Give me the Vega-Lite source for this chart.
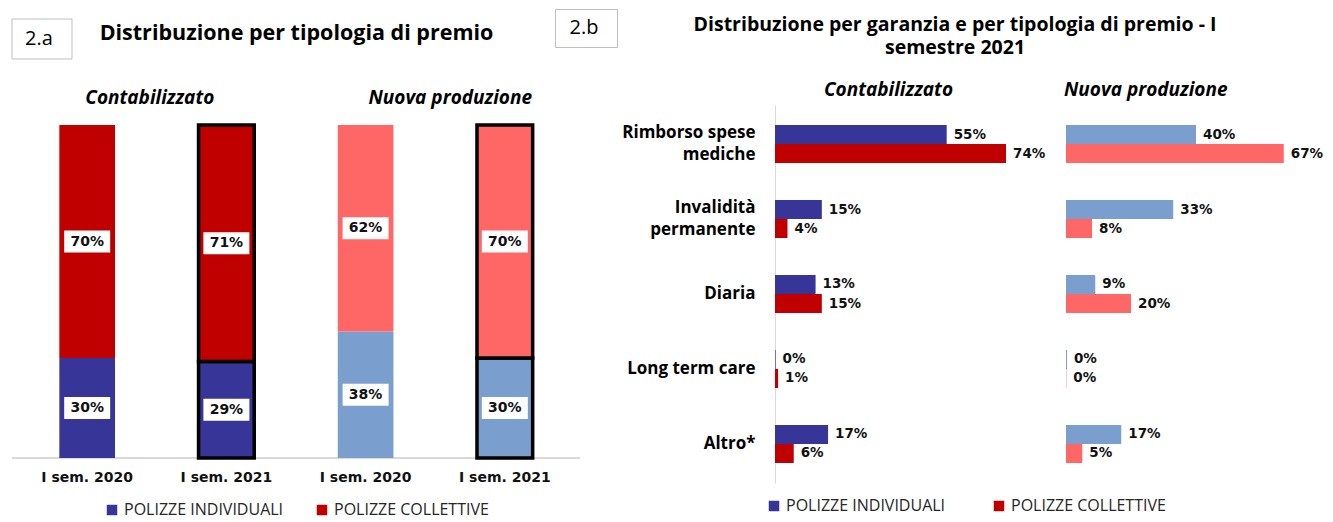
{
  "$schema": "https://vega.github.io/schema/vega-lite/v6.json",
  "background": "white",
  "padding": {"left": 10, "top": 8, "right": 0, "bottom": 0},
  "spacing": -12,
  "resolve": {"scale": {"color": "independent"}, "legend": {"color": "independent"}},
  "config": {
    "view": {"stroke": null},
    "font": "Open Sans",
    "axis": {"grid": false, "ticks": false, "tickSize": 0, "domain": false},
    "legend": {"layout": {"bottom": {"anchor": "middle"}}}
  },
  "datasets": {
    "sinistra": [
      {"misura": "Contabilizzato", "periodo": "I sem. 2020", "tipo": "POLIZZE INDIVIDUALI", "quota": 0.30},
      {"misura": "Contabilizzato", "periodo": "I sem. 2020", "tipo": "POLIZZE COLLETTIVE", "quota": 0.70},
      {"misura": "Contabilizzato", "periodo": "I sem. 2021", "tipo": "POLIZZE INDIVIDUALI", "quota": 0.29},
      {"misura": "Contabilizzato", "periodo": "I sem. 2021", "tipo": "POLIZZE COLLETTIVE", "quota": 0.71},
      {"misura": "Nuova produzione", "periodo": "I sem. 2020", "tipo": "POLIZZE INDIVIDUALI", "quota": 0.38},
      {"misura": "Nuova produzione", "periodo": "I sem. 2020", "tipo": "POLIZZE COLLETTIVE", "quota": 0.62},
      {"misura": "Nuova produzione", "periodo": "I sem. 2021", "tipo": "POLIZZE INDIVIDUALI", "quota": 0.30},
      {"misura": "Nuova produzione", "periodo": "I sem. 2021", "tipo": "POLIZZE COLLETTIVE", "quota": 0.70}
    ],
    "destra": [
      {"misura": "Contabilizzato", "garanzia": "Rimborso spese mediche", "tipo": "POLIZZE INDIVIDUALI", "quota": 0.55},
      {"misura": "Contabilizzato", "garanzia": "Rimborso spese mediche", "tipo": "POLIZZE COLLETTIVE", "quota": 0.74},
      {"misura": "Contabilizzato", "garanzia": "Invalidità permanente", "tipo": "POLIZZE INDIVIDUALI", "quota": 0.15},
      {"misura": "Contabilizzato", "garanzia": "Invalidità permanente", "tipo": "POLIZZE COLLETTIVE", "quota": 0.04},
      {"misura": "Contabilizzato", "garanzia": "Diaria", "tipo": "POLIZZE INDIVIDUALI", "quota": 0.13},
      {"misura": "Contabilizzato", "garanzia": "Diaria", "tipo": "POLIZZE COLLETTIVE", "quota": 0.15},
      {"misura": "Contabilizzato", "garanzia": "Long term care", "tipo": "POLIZZE INDIVIDUALI", "quota": 0.002},
      {"misura": "Contabilizzato", "garanzia": "Long term care", "tipo": "POLIZZE COLLETTIVE", "quota": 0.01},
      {"misura": "Contabilizzato", "garanzia": "Altro*", "tipo": "POLIZZE INDIVIDUALI", "quota": 0.17},
      {"misura": "Contabilizzato", "garanzia": "Altro*", "tipo": "POLIZZE COLLETTIVE", "quota": 0.06},
      {"misura": "Nuova produzione", "garanzia": "Rimborso spese mediche", "tipo": "POLIZZE INDIVIDUALI", "quota": 0.40},
      {"misura": "Nuova produzione", "garanzia": "Rimborso spese mediche", "tipo": "POLIZZE COLLETTIVE", "quota": 0.67},
      {"misura": "Nuova produzione", "garanzia": "Invalidità permanente", "tipo": "POLIZZE INDIVIDUALI", "quota": 0.33},
      {"misura": "Nuova produzione", "garanzia": "Invalidità permanente", "tipo": "POLIZZE COLLETTIVE", "quota": 0.08},
      {"misura": "Nuova produzione", "garanzia": "Diaria", "tipo": "POLIZZE INDIVIDUALI", "quota": 0.09},
      {"misura": "Nuova produzione", "garanzia": "Diaria", "tipo": "POLIZZE COLLETTIVE", "quota": 0.20},
      {"misura": "Nuova produzione", "garanzia": "Long term care", "tipo": "POLIZZE INDIVIDUALI", "quota": 0.003},
      {"misura": "Nuova produzione", "garanzia": "Long term care", "tipo": "POLIZZE COLLETTIVE", "quota": 0.001},
      {"misura": "Nuova produzione", "garanzia": "Altro*", "tipo": "POLIZZE INDIVIDUALI", "quota": 0.17},
      {"misura": "Nuova produzione", "garanzia": "Altro*", "tipo": "POLIZZE COLLETTIVE", "quota": 0.05}
    ]
  },
  "hconcat": [
    {
      "spacing": 27,
      "resolve": {"scale": {"color": "independent"}, "legend": {"color": "independent"}},
      "vconcat": [
        {
          "spacing": 20,
          "hconcat": [
            {
              "width": 60, "height": 50,
              "data": {"values": [{"t": "2.a"}]},
              "layer": [
                {
                  "mark": {"type": "point", "shape": "M-1,-0.5H1V0.8333H-1Z", "size": 3600, "filled": false, "color": "#bfbfbf", "strokeWidth": 1, "opacity": 1},
                  "encoding": {}
                },
                {
                  "mark": {"type": "text", "font": "Open Sans", "fontSize": 20, "color": "#000000", "dx": -3, "dy": 5},
                  "encoding": {"text": {"field": "t", "type": "nominal"}}
                }
              ]
            },
            {
              "width": 440, "height": 50,
              "data": {"values": [{"t": "Distribuzione per tipologia di premio"}]},
              "mark": {"type": "text", "font": "Open Sans", "fontWeight": "bold", "fontSize": 21.5, "color": "#000000", "dx": -17.5},
              "encoding": {"text": {"field": "t", "type": "nominal"}}
            },
            {
              "width": 62, "height": 38,
              "view": {"stroke": "#bfbfbf", "strokeWidth": 1},
              "data": {"values": [{"t": "2.b"}]},
              "mark": {"type": "text", "font": "Open Sans", "fontSize": 20, "color": "#000000", "dx": -2},
              "encoding": {"text": {"field": "t", "type": "nominal"}}
            }
          ]
        },
        {
          "width": 568, "height": 333,
          "data": {"name": "sinistra"},
          "layer": [
            {
              "mark": {"type": "rule", "color": "#d9d9d9", "strokeWidth": 1.5},
              "encoding": {"y": {"datum": 0, "type": "quantitative"}}
            },
            {
              "encoding": {
                "x": {
                  "field": "misura", "type": "nominal",
                  "scale": {"paddingInner": 0, "paddingOuter": 0.02},
                  "axis": {
                    "orient": "top", "title": null, "labelAngle": 0,
                    "labelFont": "Open Sans", "labelFontWeight": "bold", "labelFontStyle": "italic",
                    "labelFontSize": 19, "labelColor": "#000000", "labelPadding": 18,
                    "labelOffset": {"condition": {"test": "datum.value === 'Nuova produzione'", "value": 15}, "value": -7}
                  }
                },
                "xOffset": {"field": "periodo", "type": "nominal", "scale": {"paddingInner": 0.6, "paddingOuter": 0.3}}
              },
              "layer": [
                {
                  "mark": {"type": "bar"},
                  "encoding": {
                    "y": {"field": "quota", "type": "quantitative", "stack": "zero", "scale": {"domain": [0, 1], "nice": false}, "axis": null},
                    "order": {"field": "tipo", "type": "nominal", "sort": "descending"},
                    "color": {
                      "field": "tipo", "type": "nominal",
                      "scale": {"domain": ["POLIZZE INDIVIDUALI", "POLIZZE COLLETTIVE"], "range": ["#373698", "#C00000"]},
                      "legend": {
                        "orient": "bottom", "direction": "horizontal", "title": null,
                        "symbolType": "square", "symbolSize": 110, "symbolStrokeWidth": 0,
                        "labelFont": "Open Sans", "labelFontSize": 16, "labelColor": "#262626",
                        "columnPadding": 30, "offset": 44, "labelLimit": 300
                      },
                      "condition": [
                        {"test": "datum.misura === 'Nuova produzione' && datum.tipo === 'POLIZZE INDIVIDUALI'", "value": "#7A9FCE"},
                        {"test": "datum.misura === 'Nuova produzione' && datum.tipo === 'POLIZZE COLLETTIVE'", "value": "#FF6666"}
                      ]
                    },
                    "stroke": {"condition": {"test": "datum.periodo === 'I sem. 2021'", "value": "#000000"}, "value": "transparent"},
                    "strokeWidth": {"condition": {"test": "datum.periodo === 'I sem. 2021'", "value": 3.5}, "value": 0}
                  }
                },
                {
                  "mark": {"type": "point", "shape": "M-1,-0.4783H1V0.4783H-1Z", "filled": true, "color": "#ffffff", "opacity": 1, "size": 2116, "strokeWidth": 0},
                  "encoding": {
                    "y": {"field": "quota", "type": "quantitative", "stack": "zero", "bandPosition": 0.5},
                    "order": {"field": "tipo", "type": "nominal", "sort": "descending"},
                    "detail": {"field": "tipo", "type": "nominal"}
                  }
                },
                {
                  "mark": {"type": "text", "font": "DejaVu Sans", "fontWeight": "bold", "fontSize": 14, "color": "#111111"},
                  "encoding": {
                    "y": {"field": "quota", "type": "quantitative", "stack": "zero", "bandPosition": 0.5},
                    "order": {"field": "tipo", "type": "nominal", "sort": "descending"},
                    "detail": {"field": "tipo", "type": "nominal"},
                    "text": {"field": "quota", "type": "quantitative", "format": ".0%"}
                  }
                },
                {
                  "transform": [{"filter": "datum.tipo === 'POLIZZE INDIVIDUALI'"}],
                  "mark": {"type": "text", "font": "DejaVu Sans", "fontWeight": "bold", "fontSize": 14, "baseline": "top", "dy": 13, "color": "#111111"},
                  "encoding": {
                    "y": {"datum": 0, "type": "quantitative"},
                    "text": {"field": "periodo", "type": "nominal"}
                  }
                }
              ]
            }
          ]
        }
      ]
    },
    {
      "spacing": 17,
      "resolve": {"scale": {"color": "independent"}, "legend": {"color": "independent"}},
      "vconcat": [
        {
          "width": 360, "height": 55,
          "data": {"values": [{"t": "Distribuzione per garanzia e per tipologia di premio - I\nsemestre 2021"}]},
          "mark": {"type": "text", "font": "Open Sans", "fontWeight": "bold", "fontSize": 19.5, "lineBreak": "\n", "lineHeight": 23, "dy": -11.5, "color": "#000000"},
          "encoding": {"text": {"field": "t", "type": "nominal"}}
        },
        {
          "spacing": 4,
          "resolve": {"scale": {"color": "shared"}, "legend": {"color": "shared"}},
          "hconcat": [
            {
              "width": 285, "height": 378,
              "data": {"name": "destra"},
              "transform": [{"filter": "datum.misura === 'Contabilizzato'"}],
              "title": {"text": "Contabilizzato", "font": "Open Sans", "fontStyle": "italic", "fontWeight": "bold", "fontSize": 19, "color": "#000000", "frame": "group", "anchor": "middle", "dx": -29, "offset": 5},
              "encoding": {
                "y": {
                  "field": "garanzia", "type": "nominal",
                  "scale": {"domain": ["Rimborso spese mediche", "Invalidità permanente", "Diaria", "Long term care", "Altro*"], "paddingInner": 0.493, "paddingOuter": 0.267},
                  "axis": {
                    "title": null, "domain": true, "domainColor": "#d9d9d9", "domainWidth": 1,
                    "labelFont": "Open Sans", "labelFontWeight": "bold", "labelFontSize": 17, "labelColor": "#000000",
                    "labelPadding": 20, "labelLineHeight": 22, "labelLimit": 250, "minExtent": 169, "maxExtent": 169,
                    "labelOffset": {"condition": {"test": "datum.value === 'Rimborso spese mediche' || datum.value === 'Invalidità permanente'", "value": -11}, "value": 0},
                    "labelExpr": "datum.value === 'Rimborso spese mediche' ? ['Rimborso spese', 'mediche'] : datum.value === 'Invalidità permanente' ? ['Invalidità', 'permanente'] : datum.value"
                  }
                },
                "yOffset": {"field": "tipo", "type": "nominal", "scale": {"domain": ["POLIZZE INDIVIDUALI", "POLIZZE COLLETTIVE"], "paddingInner": 0, "paddingOuter": 0}},
                "x": {"field": "quota", "type": "quantitative", "scale": {"domain": [0, 0.913], "nice": false}, "axis": null}
              },
              "layer": [
                {
                  "mark": {"type": "bar"},
                  "encoding": {
                    "color": {
                      "field": "tipo", "type": "nominal",
                      "scale": {"domain": ["POLIZZE INDIVIDUALI", "POLIZZE COLLETTIVE"], "range": ["#373698", "#C00000"]},
                      "legend": {
                        "orient": "bottom", "direction": "horizontal", "title": null,
                        "symbolType": "square", "symbolSize": 110, "symbolStrokeWidth": 0,
                        "labelFont": "Open Sans", "labelFontSize": 16, "labelColor": "#262626",
                        "columnPadding": 45, "offset": 15, "labelLimit": 300
                      }
                    }
                  }
                },
                {
                  "mark": {"type": "text", "align": "left", "dx": 7, "font": "DejaVu Sans", "fontWeight": "bold", "fontSize": 13.5, "color": "#111111"},
                  "encoding": {"text": {"field": "quota", "type": "quantitative", "format": ".0%"}}
                }
              ]
            },
            {
              "width": 260, "height": 378,
              "data": {"name": "destra"},
              "transform": [{"filter": "datum.misura === 'Nuova produzione'"}],
              "title": {"text": "Nuova produzione", "font": "Open Sans", "fontStyle": "italic", "fontWeight": "bold", "fontSize": 19, "color": "#000000", "frame": "group", "anchor": "start", "dx": -2, "offset": 5},
              "encoding": {
                "y": {
                  "field": "garanzia", "type": "nominal",
                  "scale": {"domain": ["Rimborso spese mediche", "Invalidità permanente", "Diaria", "Long term care", "Altro*"], "paddingInner": 0.493, "paddingOuter": 0.267},
                  "axis": null
                },
                "yOffset": {"field": "tipo", "type": "nominal", "scale": {"domain": ["POLIZZE INDIVIDUALI", "POLIZZE COLLETTIVE"], "paddingInner": 0, "paddingOuter": 0}},
                "x": {"field": "quota", "type": "quantitative", "scale": {"domain": [0, 0.8], "nice": false}, "axis": null}
              },
              "layer": [
                {
                  "mark": {"type": "bar"},
                  "encoding": {
                    "color": {
                      "field": "tipo", "type": "nominal",
                      "scale": {"domain": ["POLIZZE INDIVIDUALI", "POLIZZE COLLETTIVE"], "range": ["#373698", "#C00000"]},
                      "legend": {
                        "orient": "bottom", "direction": "horizontal", "title": null,
                        "symbolType": "square", "symbolSize": 110, "symbolStrokeWidth": 0,
                        "labelFont": "Open Sans", "labelFontSize": 16, "labelColor": "#262626",
                        "columnPadding": 45, "offset": 15, "labelLimit": 300
                      },
                      "condition": [
                        {"test": "datum.tipo === 'POLIZZE INDIVIDUALI'", "value": "#7A9FCE"},
                        {"test": "datum.tipo === 'POLIZZE COLLETTIVE'", "value": "#FF6666"}
                      ]
                    }
                  }
                },
                {
                  "mark": {"type": "text", "align": "left", "dx": 7, "font": "DejaVu Sans", "fontWeight": "bold", "fontSize": 13.5, "color": "#111111"},
                  "encoding": {"text": {"field": "quota", "type": "quantitative", "format": ".0%"}}
                }
              ]
            }
          ]
        }
      ]
    }
  ]
}
